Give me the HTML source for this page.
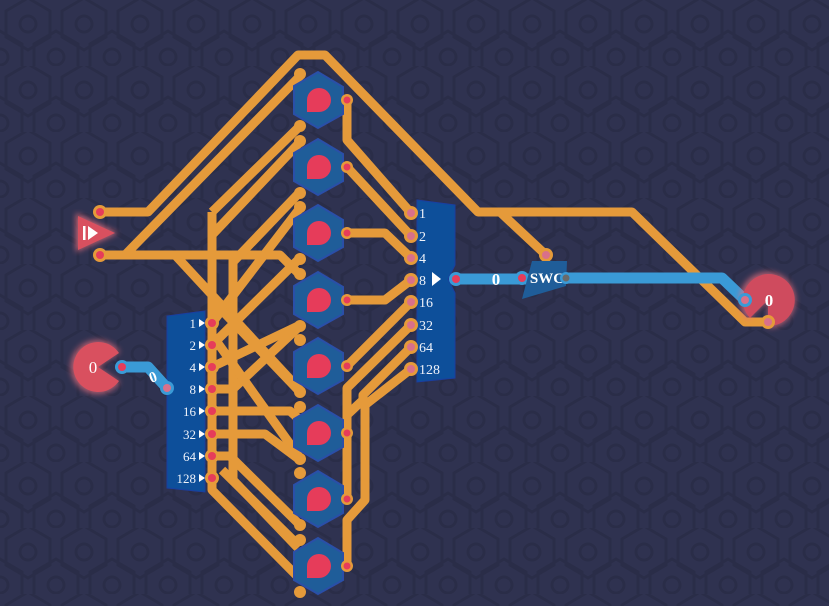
<!DOCTYPE html>
<html><head><meta charset="utf-8"><style>
html,body{margin:0;padding:0;background:#2f3250;}
svg{display:block;}
text{font-family:"Liberation Serif",serif;}
</style></head><body>
<svg width="829" height="606" viewBox="0 0 829 606" xmlns="http://www.w3.org/2000/svg">
<defs>
<pattern id="hex" width="56" height="66" patternUnits="userSpaceOnUse">
<g fill="none" stroke="#2a2d48" stroke-width="3">
<polygon points="28,-2 50,11 50,37 28,50 6,37 6,11"/>
<circle cx="28" cy="24" r="8"/>
<polygon points="0,31 22,44 22,70 0,83 -22,70 -22,44"/>
<polygon points="56,31 78,44 78,70 56,83 34,70 34,44"/>
<circle cx="0" cy="57" r="8"/><circle cx="56" cy="57" r="8"/>
</g>
</pattern>
<filter id="glow"><feGaussianBlur stdDeviation="3"/></filter>
<g id="gate">
<polygon points="-24,-14 0,-28 25,-13 25,14 0,28 -24,14" fill="#1f5d99" stroke="#2a4fa8" stroke-width="2"/>
<path d="M-11,0 a12,12 0 1 1 12,12 h-12 z" fill="#e63c5a"/>
<circle cx="-18" cy="-26" r="6" fill="#e59a3a"/>
<circle cx="-18" cy="26" r="6" fill="#e59a3a"/>
<circle cx="29" cy="0" r="6" fill="#e59a3a"/><circle cx="29" cy="0" r="3.5" fill="#e63c5a"/>
</g>
</defs>
<rect width="829" height="606" fill="#2f3250"/>
<rect width="829" height="606" fill="url(#hex)"/>

<g fill="none" stroke="#e59a3a" stroke-width="9" stroke-linejoin="round">
<path d="M100,212 H148 L298,55 H325 L478,212 H632 L745,322 H768"/>
<path d="M500,212 L546,255"/>
<path d="M100,255 H280 L300,275"/>
<path d="M125,255 L300,76"/>
<path d="M212,212 L300,126"/>
<path d="M212,235 L300,142"/>
<path d="M212,212 V490 L296,575"/>
<path d="M233,255 V480 L298,548"/>
<path d="M233,262 L300,192"/>
<path d="M175,255 L300,390"/>
<path d="M212,323 L300,208"/>
<path d="M212,345 L300,258"/>
<path d="M212,367 L300,325"/>
<path d="M212,389 L233,389 L300,326"/>
<path d="M212,300 L300,392"/>
<path d="M212,335 L300,458"/>
<path d="M212,411 H290 L300,420"/>
<path d="M212,434 H265 L300,460"/>
<path d="M212,456 H230 L300,525"/>
<path d="M222,470 L298,545"/>
<path d="M347,100 V140 L411,213"/>
<path d="M347,167 L411,236"/>
<path d="M347,233 H385 L411,258"/>
<path d="M347,300 H385 L411,280"/>
<path d="M347,366 L411,302"/>
<path d="M347,433 V388 L411,325"/>
<path d="M347,500 V415 L363,400 V395 L411,347"/>
<path d="M347,566 V520 L365,500 V405 L411,369"/>
</g>

<use href="#gate" x="318" y="100"/>
<use href="#gate" x="318" y="167"/>
<use href="#gate" x="318" y="233"/>
<use href="#gate" x="318" y="300"/>
<use href="#gate" x="318" y="366"/>
<use href="#gate" x="318" y="433"/>
<use href="#gate" x="318" y="499"/>
<use href="#gate" x="318" y="566"/>

<polygon points="167,316 205,311 205,492 167,488" fill="#0d4f9a" stroke="#1a3ea0" stroke-width="1"/>
<g font-size="13" fill="#eef2fa" text-anchor="end">
<text x="196" y="328">1</text><text x="196" y="350">2</text><text x="196" y="372">4</text><text x="196" y="394">8</text>
<text x="196" y="416">16</text><text x="196" y="439">32</text><text x="196" y="461">64</text><text x="196" y="483">128</text>
</g>
<g fill="#fff">
<polygon points="199,319 205,323 199,327"/><polygon points="199,341 205,345 199,349"/><polygon points="199,363 205,367 199,371"/><polygon points="199,385 205,389 199,393"/>
<polygon points="199,407 205,411 199,415"/><polygon points="199,430 205,434 199,438"/><polygon points="199,452 205,456 199,460"/><polygon points="199,474 205,478 199,482"/>
</g>
<g fill="#e59a3a">
<circle cx="212" cy="323" r="7"/><circle cx="212" cy="345" r="7"/><circle cx="212" cy="367" r="7"/><circle cx="212" cy="389" r="7"/>
<circle cx="212" cy="411" r="7"/><circle cx="212" cy="434" r="7"/><circle cx="212" cy="456" r="7"/><circle cx="212" cy="478" r="7"/>
</g>
<g fill="#e63c5a">
<circle cx="212" cy="323" r="4"/><circle cx="212" cy="345" r="4"/><circle cx="212" cy="367" r="4"/><circle cx="212" cy="389" r="4"/>
<circle cx="212" cy="411" r="4"/><circle cx="212" cy="434" r="4"/><circle cx="212" cy="456" r="4"/><circle cx="212" cy="478" r="4"/>
</g>

<polygon points="417,200 455,205 455,265 448,279 455,293 455,378 417,382" fill="#0d4f9a" stroke="#1a3ea0" stroke-width="1"/>
<g font-size="14" fill="#eef2fa">
<text x="419" y="218">1</text><text x="419" y="241">2</text><text x="419" y="263">4</text><text x="419" y="285">8</text>
<text x="419" y="307">16</text><text x="419" y="330">32</text><text x="419" y="352">64</text><text x="419" y="374">128</text>
</g>
<polygon points="432,272 441,279 432,286" fill="#fff"/>
<g fill="#e59a3a">
<circle cx="411" cy="213" r="7"/><circle cx="411" cy="236" r="7"/><circle cx="411" cy="258" r="7"/><circle cx="411" cy="280" r="7"/>
<circle cx="411" cy="302" r="7"/><circle cx="411" cy="325" r="7"/><circle cx="411" cy="347" r="7"/><circle cx="411" cy="369" r="7"/>
</g>
<g fill="#d9708a">
<circle cx="411" cy="213" r="4"/><circle cx="411" cy="236" r="4"/><circle cx="411" cy="258" r="4"/><circle cx="411" cy="280" r="4"/>
<circle cx="411" cy="302" r="4"/><circle cx="411" cy="325" r="4"/><circle cx="411" cy="347" r="4"/><circle cx="411" cy="369" r="4"/>
</g>

<g fill="none" stroke="#3a9ad6" stroke-width="11" stroke-linejoin="round">
<path d="M456,279 H530"/>
<path d="M566,278 H722 L745,300"/>
<path d="M122,367 H148 L167,388"/>
</g>
<circle cx="456" cy="279" r="7" fill="#3a9ad6"/><circle cx="456" cy="279" r="4" fill="#e63c5a"/>
<text x="496" y="285" font-family="Liberation Mono,monospace" font-size="17" font-weight="bold" fill="#fff" text-anchor="middle">0</text>
<circle cx="522" cy="278" r="7" fill="#3a9ad6"/><circle cx="522" cy="278" r="4" fill="#e63c5a"/>
<circle cx="546" cy="255" r="7" fill="#e59a3a"/><circle cx="546" cy="255" r="4" fill="#d9708a"/>
<polygon points="532,261 567,261 566,286 522,299" fill="#1f5d99"/>
<text x="547" y="283" font-family="Liberation Sans,sans-serif" font-weight="bold" font-size="15" fill="#fff" text-anchor="middle">SWC</text>
<circle cx="566" cy="278" r="6" fill="#3a9ad6"/><circle cx="566" cy="278" r="3.5" fill="#6a6a6a"/>

<path d="M768,300 L748,320 A28,28 0 1 1 768,328 Z" fill="#e9707e" filter="url(#glow)" opacity="0.7"/>
<path d="M768,300 L750,318 A26,26 0 1 1 768,326 Z" fill="#cf4b5e"/>
<circle cx="745" cy="300" r="7" fill="#3a9ad6"/><circle cx="745" cy="300" r="4" fill="#d9708a"/>
<circle cx="768" cy="322" r="7" fill="#e59a3a"/><circle cx="768" cy="322" r="4" fill="#d9708a"/>
<text x="769" y="306" font-family="Liberation Mono,monospace" font-size="17" font-weight="bold" fill="#fff" text-anchor="middle">0</text>

<path d="M98,367 L120,352 A27,27 0 1 0 120,382 Z" fill="#e9707e" filter="url(#glow)" opacity="0.7"/>
<path d="M98,367 L119,353 A25,25 0 1 0 119,381 Z" fill="#d9505f"/>
<text x="93" y="373" font-family="Liberation Mono,monospace" font-size="17" fill="#fff" text-anchor="middle">0</text>
<circle cx="122" cy="367" r="7" fill="#3a9ad6"/><circle cx="122" cy="367" r="4" fill="#e63c5a"/>
<circle cx="167" cy="388" r="7" fill="#3a9ad6"/><circle cx="167" cy="388" r="4" fill="#d9708a"/>
<text x="153" y="382" font-family="Liberation Mono,monospace" font-size="15" font-weight="bold" fill="#fff" text-anchor="middle" transform="rotate(-20 153 377)">0</text>

<polygon points="76,213 118,233 76,252" fill="#e9707e" filter="url(#glow)" opacity="0.8"/>
<polygon points="78,216 115,233 78,250" fill="#d9505f"/>
<rect x="83" y="226" width="2.5" height="14" fill="#fff"/>
<polygon points="88,226 98,233 88,240" fill="#fff"/>
<circle cx="100" cy="212" r="7" fill="#e59a3a"/><circle cx="100" cy="212" r="4" fill="#e63c5a"/>
<circle cx="100" cy="255" r="7" fill="#e59a3a"/><circle cx="100" cy="255" r="4" fill="#e63c5a"/>
</svg>
</body></html>
